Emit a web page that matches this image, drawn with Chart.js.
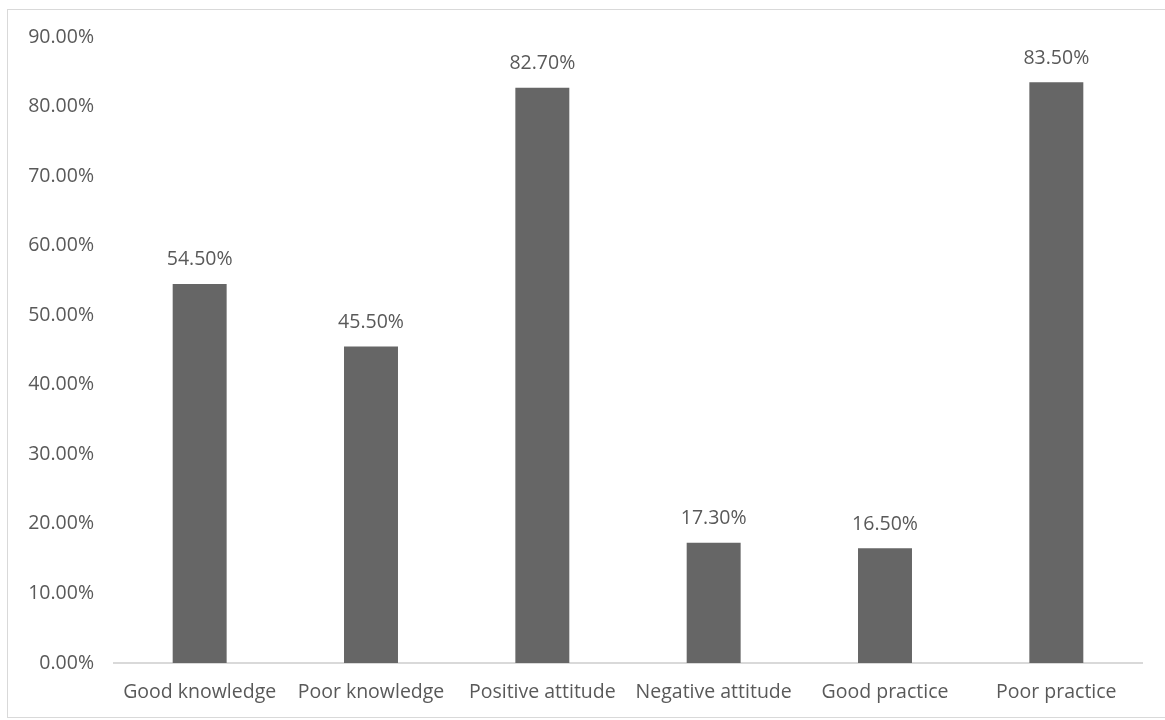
<!DOCTYPE html>
<html>
<head>
<meta charset="utf-8">
<script src="https://cdn.jsdelivr.net/npm/chart.js@4.4.1/dist/chart.umd.min.js"></script>
<style>
    body { margin: 0; background: #fff; }
    #wrap {
        position: absolute; left: 7px; top: 9px;
        width: 1170px; height: 707px;
        border: 1px solid #d9d9d9;
    }
    #chart { display: block; }
</style>
</head>
<body>
<div id="wrap"><canvas id="chart" width="1157" height="707"></canvas></div>
<script>
const categories = ['Good knowledge', 'Poor knowledge', 'Positive attitude', 'Negative attitude', 'Good practice', 'Poor practice'];
const percentages = [54.5, 45.5, 82.7, 17.3, 16.5, 83.5];

const textColor = '#595959';
const fontFamily = '"Open Sans", "Liberation Sans", sans-serif';
const fontSize = 19.5;

// value labels above each bar
const barLabels = {
    id: 'barLabels',
    afterDatasetsDraw(chart) {
        let ctx = chart.ctx;
        let meta = chart.getDatasetMeta(0);
        ctx.save();
        ctx.fillStyle = textColor;
        ctx.font = fontSize + 'px ' + fontFamily;
        ctx.textAlign = 'center';
        ctx.textBaseline = 'middle';
        meta.data.forEach(function (bar, i) {
            ctx.fillText(percentages[i].toFixed(2) + '%', bar.x, bar.y - 24);
        });
        ctx.restore();
    }
};

new Chart(document.getElementById('chart').getContext('2d'), {
    type: 'bar',
    data: {
        labels: categories,
        datasets: [{
            data: percentages,
            backgroundColor: '#666666',
            barPercentage: 0.315,
            categoryPercentage: 1
        }]
    },
    options: {
        responsive: false,
        animation: false,
        layout: { padding: { top: 27, right: 23, left: 0, bottom: 0 } },
        plugins: {
            legend: { display: false },
            tooltip: { enabled: false }
        },
        scales: {
            x: {
                grid: { display: false, drawTicks: false },
                border: { color: '#d9d9d9', width: 2 },
                ticks: { color: textColor, font: { size: fontSize, family: fontFamily }, padding: 18, maxRotation: 0 },
                afterFit(scale) { scale.height = 54; }
            },
            y: {
                min: 0,
                max: 90,
                grid: { display: false, drawTicks: false },
                border: { display: false },
                ticks: {
                    stepSize: 10,
                    color: textColor,
                    font: { size: fontSize, family: fontFamily },
                    padding: 20,
                    callback: v => v.toFixed(2) + '%'
                },
                afterFit(scale) {
                    scale.width = 106;
                    scale.paddingTop = 0;
                    scale.paddingBottom = 0;
                }
            }
        }
    },
    plugins: [barLabels]
});
</script>
</body>
</html>
